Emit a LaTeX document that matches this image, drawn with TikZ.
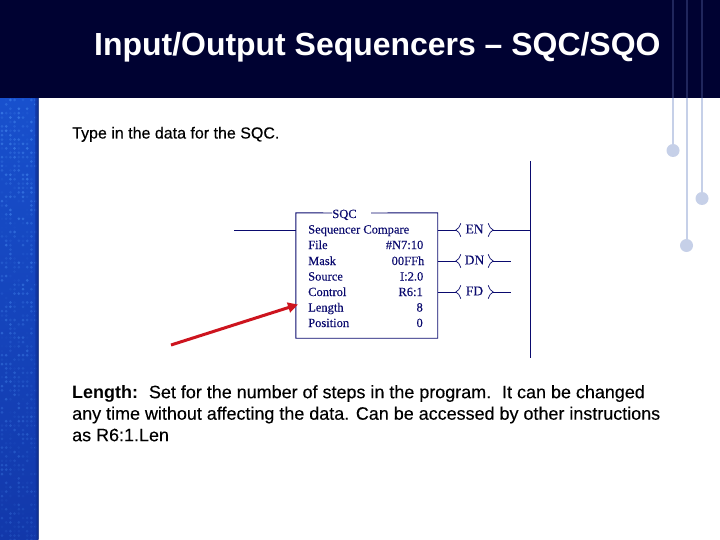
\documentclass[tikz,border=0pt]{standalone}
\usepackage{fontspec}
\usetikzlibrary{calc,arrows.meta}
\setmainfont{Liberation Sans}
\newfontfamily\semibody[FakeBold=0.25]{Liberation Sans}
\newfontfamily\ladderfont[FakeBold=0.15]{Liberation Serif}
\definecolor{headnavy}{RGB}{0,2,50}
\definecolor{ladder}{RGB}{10,10,110}
\definecolor{pin}{RGB}{198,208,232}
\definecolor{pindark}{RGB}{32,38,92}
\definecolor{stripa}{RGB}{24,80,205}
\definecolor{stripb}{RGB}{18,56,170}
\definecolor{dotblue}{RGB}{75,145,245}
\definecolor{arrowred}{RGB}{205,20,30}
\tikzset{
  wire/.style={draw=ladder,line width=0.9pt},
  lbl/.style={font=\ladderfont\fontsize{12.5}{14}\selectfont,text=ladder,anchor=base west,inner sep=0pt},
  val/.style={font=\ladderfont\fontsize{12.5}{14}\selectfont,text=ladder,anchor=base east,inner sep=0pt},
  coil/.style={font=\ladderfont\fontsize{13.5}{14}\selectfont,text=ladder,minimum width=37pt,minimum height=13pt,inner sep=0pt},
  body/.style={text=black,anchor=north west,inner sep=0pt,align=left},
  pinline/.style={draw=pin,line width=1.6pt},
  pindot/.style={circle,fill=pin,draw=none,minimum size=13pt,inner sep=0pt}
}
\begin{document}
\begin{tikzpicture}[x=1pt,y=-1pt]
\useasboundingbox (0,0) rectangle (720,540);
\fill[white] (0,0) rectangle (720,540);
% left strip
\shade[top color=stripa,bottom color=stripb] (0,98) rectangle (38,540);
\pgfmathsetseed{42}
\foreach \i in {0,...,8}{
  \foreach \j in {0,...,100}{
    \pgfmathsetmacro{\op}{max(0,rnd-0.35)*(1-\j/170)*0.9}
    \fill[dotblue,opacity=\op] ({2+\i*4.2},{100+\j*4.4}) circle (1.5pt);
  }
}
\shade[left color=stripb,right color=stripb!70!black,opacity=0.8] (35,98) rectangle (38.5,540);
% header
\fill[headnavy] (0,0) rectangle (720,98.5);
% pins
\draw[draw=pindark,line width=1.6pt] (673,0) -- (673,98) (686.7,0) -- (686.7,98) (702,0) -- (702,98);
\draw[pinline] (673,98) -- (673,150);
\draw[pinline] (686.7,98) -- (686.7,245);
\draw[pinline] (702,98) -- (702,198);
\node[pindot] (p1) at (673,150.5) {};
\node[pindot] (p2) at (686.5,245.5) {};
\node[pindot] (p3) at (702,198.5) {};
% title and text
\node[anchor=base west,inner sep=0pt,text=white,font=\bfseries\fontsize{31.95}{34}\selectfont] (title) at (94,55.5) {Input/Output Sequencers -- SQC/SQO};
\node[body,anchor=base west,font=\semibody\fontsize{16}{20}\selectfont] (intro) at (72,138.5) {Type in the data for the SQC.};
\node[body,anchor=north west,font=\semibody\fontsize{17.95}{21.5}\selectfont] (para) at (72,385) {\frenchspacing\textbf{\normalfont\bfseries Length:}\,\, Set for the number of steps in the program.\,\, It can be changed\\any time without affecting the data. Can be accessed by other instructions\\as R6:1.Len};
% instruction box
\node[draw=none,minimum width=141.5pt,minimum height=125pt,inner sep=0pt] (box) at (366.8,275.5) {};
\node[lbl,anchor=base] (name) at (344.5,218) {SQC};
\draw[wire] (332,213) -- (box.north west) -- (box.south west) -- (box.south east) -- (box.north east) -- (371,213);
\node[lbl] (t0) at (308,233.5) {Sequencer Compare};
\node[lbl] (t1) at (308,249) {File};
\node[val] (v1) at (423.5,249) {\#N7:10};
\node[lbl] (t2) at (308,265) {Mask};
\node[val] (v2) at (424.5,265) {00FFh};
\node[lbl] (t3) at (308,280.5) {Source};
\node[val] (v3) at (423.5,280.5) {I:2.0};
\node[lbl] (t4) at (308,296) {Control};
\node[val] (v4) at (423,296) {R6:1};
\node[lbl] (t5) at (308,311.5) {Length};
\node[val] (v5) at (423,311.5) {8};
\node[lbl] (t6) at (308,327) {Position};
\node[val] (v6) at (423,327) {0};
% rungs
\coordinate (railtop) at (530,161);
\coordinate (railbot) at (530,358);
\coordinate (inl) at (234,230);
\node[coil] (en) at (474.5,229) {EN};
\node[coil] (dn) at (474.5,260) {DN};
\node[coil] (fd) at (474.5,291) {FD};
\coordinate (dnend) at (511,261);
\coordinate (fdend) at (511,292);
\draw[wire] (railtop) -- (railbot);
\draw[wire] (inl) -- (box.west |- inl);
\foreach \c in {en,dn,fd}{
  \draw[wire,line width=0.7pt] ($(\c.north west)+(5,1)$) .. controls ($(\c.west)+(3,-1)$) .. ($(\c.west)+(0,1)$) .. controls ($(\c.west)+(3,3)$) .. ($(\c.south west)+(5,1)$);
  \draw[wire,line width=0.7pt] ($(\c.north east)+(-5,1)$) .. controls ($(\c.east)+(-3,-1)$) .. ($(\c.east)+(0,1)$) .. controls ($(\c.east)+(-3,3)$) .. ($(\c.south east)+(-5,1)$);
}
\draw[wire] (box.east |- inl) -- ($(en.west)+(0,1)$);
\draw[wire] ($(en.east)+(0,1)$) -- (railtop |- inl);
\draw[wire] (box.east |- dnend) -- ($(dn.west)+(0,1)$);
\draw[wire] ($(dn.east)+(0,1)$) -- (dnend);
\draw[wire] (box.east |- fdend) -- ($(fd.west)+(0,1)$);
\draw[wire] ($(fd.east)+(0,1)$) -- (fdend);
% arrow
\coordinate (tail) at (171,345);
\coordinate (tip) at (298,304.5);
\draw[arrowred,line width=3pt,-{Triangle[length=10pt,width=10pt]}] (tail) -- (tip);
\end{tikzpicture}
\end{document}
